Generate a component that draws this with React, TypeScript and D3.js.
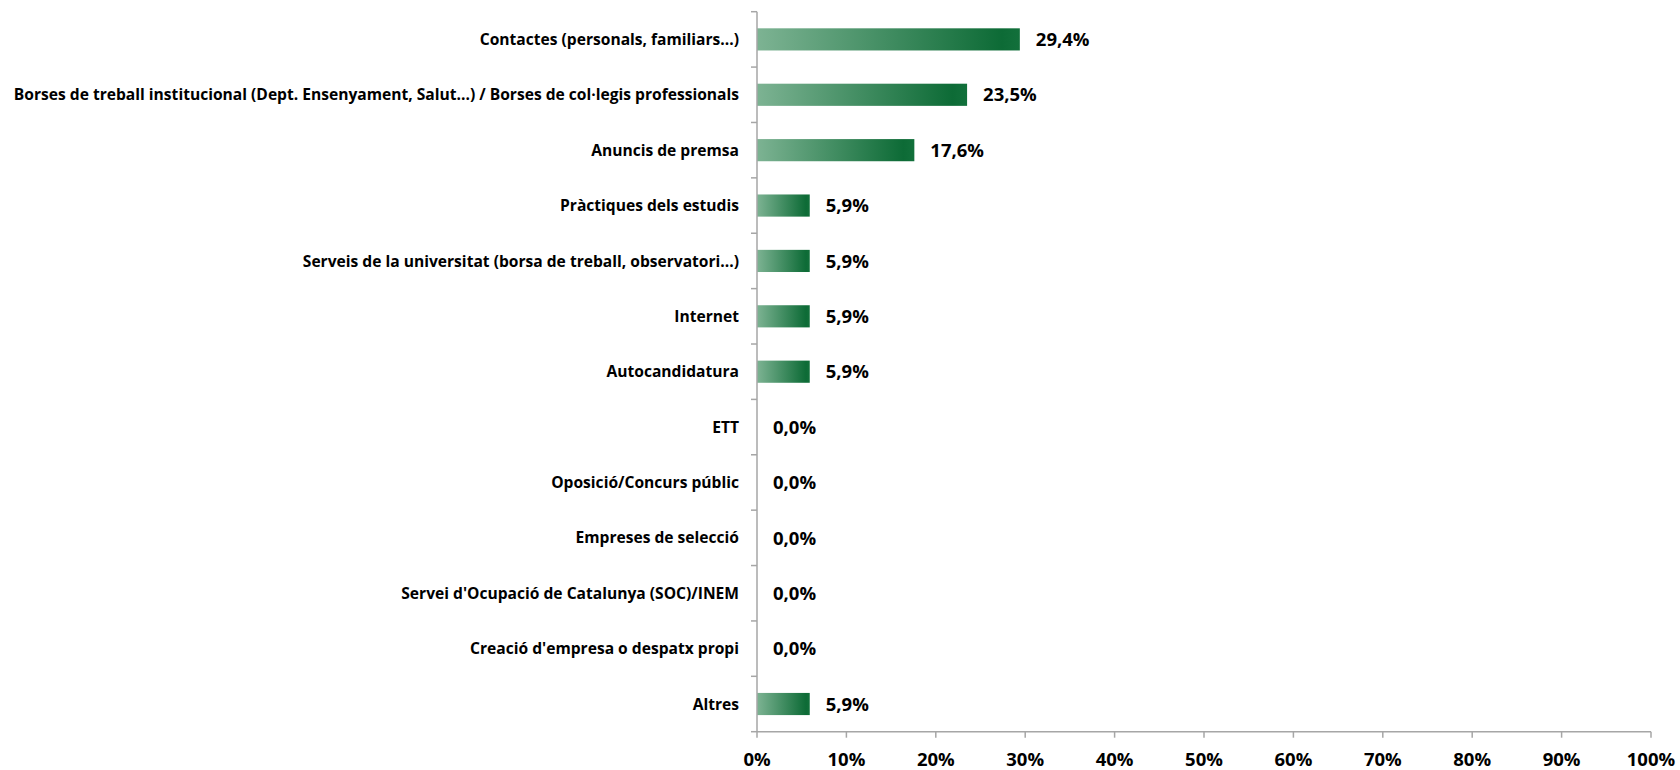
import React from "react";
import * as d3 from "d3";

const categories = [
  "Contactes (personals, familiars...)",
  "Borses de treball institucional (Dept. Ensenyament, Salut...) / Borses de col·legis professionals",
  "Anuncis de premsa",
  "Pràctiques dels estudis",
  "Serveis de la universitat (borsa de treball, observatori...)",
  "Internet",
  "Autocandidatura",
  "ETT",
  "Oposició/Concurs públic",
  "Empreses de selecció",
  "Servei d'Ocupació de Catalunya (SOC)/INEM",
  "Creació d'empresa o despatx propi",
  "Altres",
];
const values = [29.4, 23.5, 17.6, 5.9, 5.9, 5.9, 5.9, 0, 0, 0, 0, 0, 5.9];
const xTicks = [0, 10, 20, 30, 40, 50, 60, 70, 80, 90, 100];

const W = 1680;
const H = 770;
const left = 757;
const right = 1651;
const top = 11.7;
const bottom = 731.7;
const axisColor = "#a6a6a6";
const font = "'Open Sans', Lato, sans-serif";

export default function App() {
  const x = d3.scaleLinear().domain([0, 100]).range([left, right]);
  const y = d3
    .scaleBand<string>()
    .domain(categories)
    .range([top, bottom])
    .paddingInner(0.6)
    .paddingOuter(0.3);
  const step = y.step();
  const bandEdges = d3.range(categories.length + 1).map((i) => top + i * step);
  const fmt = (v: number) => v.toFixed(1).replace(".", ",") + "%";

  return (
    <svg
      width={W}
      height={H}
      style={{ position: "absolute", left: 0, top: 0, background: "#fff" }}
    >
      <defs>
        <linearGradient id="barGrad" x1="0" y1="0" x2="1" y2="0">
          <stop offset="0%" stopColor="#7db393" />
          <stop offset="93%" stopColor="#0d6b36" />
          <stop offset="100%" stopColor="#12703b" />
        </linearGradient>
      </defs>
      {/* bars */}
      {categories.map((c, i) =>
        values[i] > 0 ? (
          <rect
            key={c}
            x={x(0)}
            y={y(c)}
            width={x(values[i]) - x(0)}
            height={y.bandwidth()}
            fill="url(#barGrad)"
          />
        ) : null
      )}
      {/* y axis */}
      <line x1={left} x2={left} y1={top} y2={bottom} stroke={axisColor} strokeWidth={1.5} />
      {bandEdges.map((e, i) => (
        <line key={i} x1={left - 6} x2={left} y1={e} y2={e} stroke={axisColor} strokeWidth={1.5} />
      ))}
      {/* x axis */}
      <line x1={left} x2={right} y1={bottom} y2={bottom} stroke={axisColor} strokeWidth={1.5} />
      {xTicks.map((t) => (
        <g key={t}>
          <line x1={x(t)} x2={x(t)} y1={bottom} y2={bottom + 6} stroke={axisColor} strokeWidth={1.5} />
          <text
            x={x(t)}
            y={766}
            textAnchor="middle"
            fontFamily={font}
            fontWeight={700}
            fontSize={18.5}
            fill="#000"
          >
            {t + "%"}
          </text>
        </g>
      ))}
      {/* category labels */}
      {categories.map((c) => (
        <text
          key={c}
          x={739}
          y={(y(c) as number) + y.bandwidth() / 2}
          dy="0.36em"
          textAnchor="end"
          fontFamily={font}
          fontWeight={700}
          fontSize={15.6}
          fill="#000"
        >
          {c}
        </text>
      ))}
      {/* value labels */}
      {categories.map((c, i) => (
        <text
          key={c}
          x={x(values[i]) + 16}
          y={(y(c) as number) + y.bandwidth() / 2}
          dy="0.36em"
          fontFamily={font}
          fontWeight={700}
          fontSize={18.5}
          fill="#000"
        >
          {fmt(values[i])}
        </text>
      ))}
    </svg>
  );
}
